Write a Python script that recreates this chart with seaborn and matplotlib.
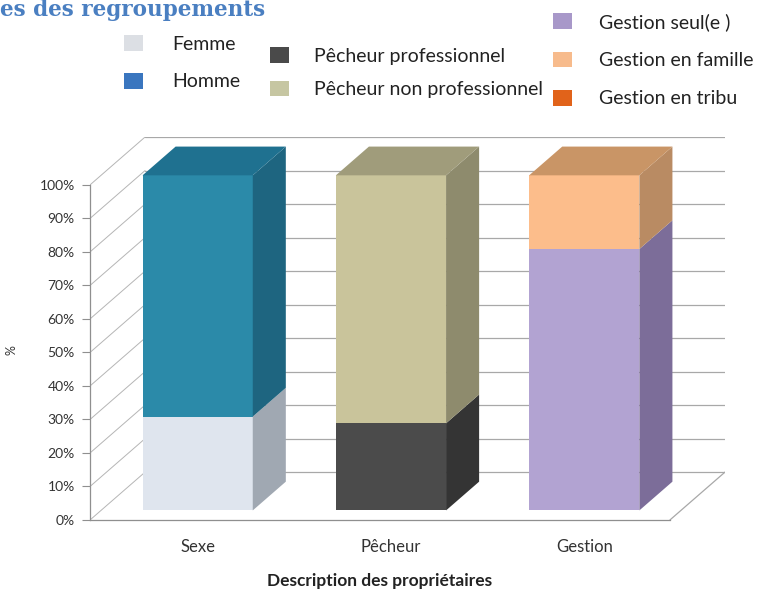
import numpy as np
import pandas as pd
import matplotlib
matplotlib.use("Agg")
import matplotlib.pyplot as plt
from matplotlib.patches import Patch, Polygon
import seaborn as sns

# ---- data ----
categories = ["Sexe", "Pêcheur", "Gestion"]

sexe_labels = ["Femme", "Homme"]
sexe_values = [28, 72]

pecheur_labels = ["Pêcheur professionnel", "Pêcheur non professionnel"]
pecheur_values = [26, 74]

gestion_labels = ["Gestion seul(e )", "Gestion en famille", "Gestion en tribu"]
gestion_values = [78, 22, 0]

yticks = [0, 10, 20, 30, 40, 50, 60, 70, 80, 90, 100]
ytick_labels = [f"{v}%" for v in yticks]

# colours (front face, side face, top face, legend swatch)
front_colors = {"Femme": "#dfe5ee", "Homme": "#2b8aa9",
                "Pêcheur professionnel": "#4b4b4b", "Pêcheur non professionnel": "#c9c49b",
                "Gestion seul(e )": "#b2a3d2", "Gestion en famille": "#fcbd8b", "Gestion en tribu": "#e3661c"}
side_colors = {"Femme": "#a0a8b2", "Homme": "#1e6580",
               "Pêcheur professionnel": "#343434", "Pêcheur non professionnel": "#8e8b6d",
               "Gestion seul(e )": "#7c6d99", "Gestion en famille": "#b98b63", "Gestion en tribu": "#a84a12"}
top_colors = {"Femme": "#c5ccd6", "Homme": "#1f7190",
              "Pêcheur professionnel": "#3e3e3e", "Pêcheur non professionnel": "#a09c7b",
              "Gestion seul(e )": "#9888b5", "Gestion en famille": "#c99566", "Gestion en tribu": "#c05515"}
legend_colors = {"Femme": "#dcdfe4", "Homme": "#3a76bf",
                 "Pêcheur professionnel": "#4a4a4a", "Pêcheur non professionnel": "#c6c6a2",
                 "Gestion seul(e )": "#a898c9", "Gestion en famille": "#f7bb8c", "Gestion en tribu": "#e1631a"}

# pseudo 3d depth (in data units) and bar placement in depth
DX, DY = 0.285, 14.3
F0, F1 = 0.2, 0.8
BAR_W = 0.57

rows = []
for grp, labels, vals in zip(categories, [sexe_labels, pecheur_labels, gestion_labels],
                             [sexe_values, pecheur_values, gestion_values]):
    bottom = 0
    for lvl, (lab, v) in enumerate(zip(labels, vals)):
        rows.append(dict(group=grp, seg=lab, lvl=lvl, bottom=bottom, top=bottom + v, value=v))
        bottom += v
df = pd.DataFrame(rows)
df_draw = df[df.value > 0]

sns.set_theme(style="white")
plt.rcParams["font.family"] = ["Lato", "DejaVu Sans"]

fig = plt.figure(figsize=(7.57, 5.9), dpi=100)
W, H = 757, 590
ax_l, ax_r, ax_b, ax_t = 90, 725, 520, 137
ax = fig.add_axes([ax_l / W, (H - ax_b) / H, (ax_r - ax_l) / W, (ax_b - ax_t) / H])

# front faces, stacked by overdrawing the cumulative totals
for lvl in sorted(df_draw.lvl.unique(), reverse=True):
    sub = df_draw[df_draw.lvl == lvl]
    sns.barplot(data=sub, x="group", y="top", hue="seg", order=categories,
                palette=front_colors, dodge=False, width=BAR_W, legend=False,
                saturation=1, linewidth=0, zorder=3, ax=ax)

# push the front faces into the depth
for p in ax.patches:
    p.set_x(p.get_x() + F0 * DX)
    p.set_y(p.get_y() + F0 * DY)

# side and top faces
ddx, ddy = (F1 - F0) * DX, (F1 - F0) * DY
last_seg = df_draw.groupby("group").seg.last()
for _, r in df_draw.iterrows():
    i = categories.index(r["group"])
    xl = i - BAR_W / 2 + F0 * DX
    xr = i + BAR_W / 2 + F0 * DX
    yb = r["bottom"] + F0 * DY
    yt = r["top"] + F0 * DY
    ax.add_patch(Polygon([(xr, yb), (xr + ddx, yb + ddy), (xr + ddx, yt + ddy), (xr, yt)],
                         closed=True, facecolor=side_colors[r["seg"]], edgecolor="none", zorder=3))
    if last_seg[r["group"]] == r["seg"]:
        ax.add_patch(Polygon([(xl, yt), (xl + ddx, yt + ddy), (xr + ddx, yt + ddy), (xr, yt)],
                             closed=True, facecolor=top_colors[r["seg"]], edgecolor="none", zorder=3))

# walls: diagonal lines on the side wall, horizontal gridlines on the back wall
x0, x1 = -0.5, len(categories) - 0.5
for v in yticks:
    ax.plot([x0, x0 + DX], [v, v + DY], color="#b5b5b5", lw=0.7, zorder=1)
    ax.plot([x0 + DX, x1 + DX], [v + DY, v + DY], color="#a8a8a8", lw=0.9, zorder=1)
ax.plot([x1, x1 + DX], [0, DY], color="#a8a8a8", lw=0.9, zorder=1)

ax.set_xlim(x0, x1 + DX)
ax.set_ylim(0, 100 + DY)
ax.set_yticks(yticks, ytick_labels)
ax.set_xticks(np.arange(len(categories)) + F0 * DX, categories)
sns.despine(ax=ax)
ax.spines["left"].set_bounds(0, 100)
ax.spines["bottom"].set_bounds(x0, x1)
for s in ["left", "bottom"]:
    ax.spines[s].set_color("#8f8f8f")
    ax.spines[s].set_linewidth(0.9)
ax.tick_params(axis="y", length=6, width=0.8, color="#8f8f8f", pad=5, labelsize=10, labelcolor="#333333", left=True)
ax.tick_params(axis="x", length=0, pad=14, labelsize=12, labelcolor="#333333")

ax.set_ylabel("%", fontsize=9, color="#333333", rotation=90)
ax.yaxis.set_label_coords(-(ax_l - 18) / (ax_r - ax_l), (ax_b - 350) / (ax_b - ax_t))
ax.set_xlabel("Description des propriétaires", fontsize=12.5, fontweight="bold", color="#222222")
ax.xaxis.set_label_coords((380 - ax_l) / (ax_r - ax_l), -(573 - ax_b) / (ax_b - ax_t))

# legends, one block per group
def add_legend(labels, left_px, top_px, spacing, textpad):
    handles = [Patch(facecolor=legend_colors[l], edgecolor="none") for l in labels]
    fig.legend(handles, labels, loc="upper left", bbox_to_anchor=(left_px / W, 1 - top_px / H),
               frameon=False, borderpad=0, borderaxespad=0, handlelength=1.0, handleheight=0.88,
               handletextpad=textpad, labelspacing=spacing, fontsize=14, labelcolor="#222222")

add_legend(sexe_labels, 124, 35, 1.03, 1.5)
add_legend(pecheur_labels, 270, 47, 0.82, 1.25)
add_legend(gestion_labels, 553, 13, 1.06, 1.35)

# title, cut by the top of the original picture
fig.text(0.0, 1 - 16 / H, "es des regroupements", family="DejaVu Serif", fontweight="bold",
         fontsize=15.5, color="#4a7fc1", va="baseline", ha="left")

fig.savefig("out.png", dpi=100, facecolor="white")
